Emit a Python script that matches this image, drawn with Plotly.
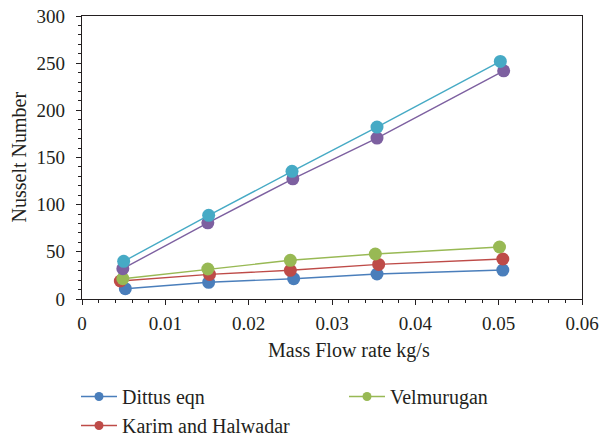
import plotly.graph_objects as go

series_names = ["Dittus eqn", "Karim and Halwadar", "Velmurugan", "Series 4", "Series 5"]
colors = ["#4A7EBB", "#BE4B48", "#98B954", "#7D60A0", "#46AAC5"]

x_dittus = [0.0052, 0.0152, 0.0254, 0.0354, 0.0505]
y_dittus = [10.9, 17.7, 21.5, 26.5, 30.7]

x_karim = [0.0046, 0.0153, 0.0250, 0.0356, 0.0505]
y_karim = [19.1, 26.1, 30.4, 36.7, 42.4]

x_velm = [0.0049, 0.0151, 0.0250, 0.0352, 0.0501]
y_velm = [21.5, 31.8, 41.0, 47.7, 55.1]

x_s4 = [0.0049, 0.0151, 0.0253, 0.0354, 0.0506]
y_s4 = [32.1, 80.8, 127.4, 170.6, 241.9]

x_s5 = [0.0050, 0.0152, 0.0252, 0.0354, 0.0502]
y_s5 = [39.9, 88.7, 135.3, 182.2, 251.8]

x_tickvals = [0, 0.01, 0.02, 0.03, 0.04, 0.05, 0.06]
x_ticktext = ["0", "0.01", "0.02", "0.03", "0.04", "0.05", "0.06"]

x_title = "Mass Flow rate kg/s"
y_title = "Nusselt Number"

xs = [x_dittus, x_karim, x_velm, x_s4, x_s5]
ys = [y_dittus, y_karim, y_velm, y_s4, y_s5]
legend_of = ["legend", "legend", "legend2", None, None]

FONT = "Liberation Serif, Times New Roman, serif"
TXT = "#231F20"

fig = go.Figure()
for i in range(5):
    fig.add_trace(go.Scatter(
        x=xs[i], y=ys[i], mode="lines+markers", name=series_names[i],
        line=dict(color=colors[i], width=1.4),
        marker=dict(color=colors[i], size=13),
        showlegend=False))
# legend-only entries (smaller legend markers, as in the reference)
for i in range(5):
    if legend_of[i]:
        fig.add_trace(go.Scatter(
            x=[None], y=[None], mode="lines+markers", name=series_names[i],
            line=dict(color=colors[i], width=1.6),
            marker=dict(color=colors[i], size=9),
            showlegend=True, legend=legend_of[i]))

axis_common = dict(
    showline=True, linecolor="#231F20", linewidth=1.2, mirror=True,
    ticks="outside", ticklen=5, tickwidth=1, tickcolor="#231F20",
    showgrid=False, zeroline=False, automargin=False,
    tickfont=dict(family=FONT, size=19, color=TXT),
)

legend_font = dict(family=FONT, size=20, color=TXT)

fig.update_layout(
    width=600, height=438,
    margin=dict(l=82, r=18, t=16, b=139, autoexpand=False),
    paper_bgcolor="white", plot_bgcolor="white",
    font=dict(family=FONT, size=19, color=TXT),
    xaxis=dict(range=[0, 0.06], tickvals=x_tickvals, ticktext=x_ticktext,
               ticklabelstandoff=2,
               minor=dict(dtick=0.002, ticks="outside", ticklen=3, tickcolor="#231F20"),
               **axis_common),
    yaxis=dict(range=[0, 300], dtick=50, ticklabelstandoff=7,
               minor=dict(dtick=10, ticks="outside", ticklen=3, tickcolor="#231F20"),
               **axis_common),
    annotations=[
        dict(text=x_title, xref="paper", yref="paper", x=(349-82)/500, y=-(350-299)/283,
             xanchor="center", yanchor="middle", showarrow=False,
             font=dict(family=FONT, size=20, color=TXT)),
        dict(text=y_title, xref="paper", yref="paper", x=-(82-18)/500, y=0.5,
             xanchor="center", yanchor="middle", showarrow=False, textangle=-90,
             font=dict(family=FONT, size=20, color=TXT)),
    ],
    legend=dict(x=76/600, y=1-377/438, xref="container", yref="container",
                xanchor="left", yanchor="top", orientation="v", itemwidth=36,
                font=legend_font, bgcolor="rgba(0,0,0,0)", tracegroupgap=0),
    legend2=dict(x=344/600, y=1-377/438, xref="container", yref="container",
                 xanchor="left", yanchor="top", orientation="v", itemwidth=36,
                 font=legend_font, bgcolor="rgba(0,0,0,0)"),
)

fig.write_html("out.html")
